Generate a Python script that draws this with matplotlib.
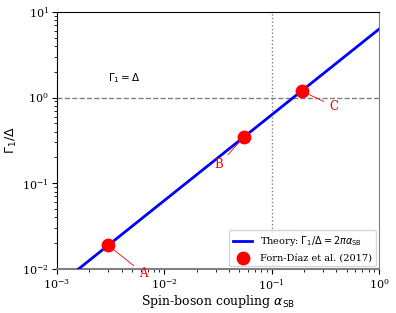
import numpy as np
import matplotlib
matplotlib.use('Agg')
import matplotlib.pyplot as plt

# Forn-Diaz et al. (2017) points
alpha_data = [0.003, 0.055, 0.19]
gamma_data = [2 * np.pi * a for a in alpha_data]
point_labels = ['A', 'B', 'C']
label_offsets = [(25, -20), (-18, -20), (23, -11)]   # points

alpha_theory = np.logspace(-3, 0, 200)
gamma_theory = 2 * np.pi * alpha_theory

plt.rcParams['font.family'] = 'serif'
plt.rcParams['font.serif'] = ['DejaVu Serif']

fig = plt.figure(figsize=(3.96, 3.13), dpi=100)
ax = fig.add_axes([0.144, 0.141, 0.813, 0.821])

ax.plot(alpha_theory, gamma_theory, color='blue', lw=2,
        label=r'Theory: $\Gamma_1/\Delta = 2\pi\alpha_{\rm SB}$', zorder=3)
ax.scatter(alpha_data, gamma_data, s=80, color='red', zorder=5,
           label='Forn-Díaz et al. (2017)')

for a, g, lab, off in zip(alpha_data, gamma_data, point_labels, label_offsets):
    ax.annotate(lab, xy=(a, g), xytext=off, textcoords='offset points',
                color='red', fontsize=8.5, ha='center', va='center',
                arrowprops=dict(arrowstyle='-', color='red', lw=0.6))

ax.axhline(1.0, color='gray', ls='--', lw=1)
ax.axvline(0.1, color='gray', ls=':', lw=1)
ax.text(0.003, 1.7, r'$\Gamma_1 = \Delta$', fontsize=7.5, va='center')
ax.text(0.14, 0.025, 'USC', color='#dddddd', fontsize=7, ha='center', va='center', zorder=1)

ax.set_xscale('log')
ax.set_yscale('log')
ax.set_xlim(1e-3, 1)
ax.set_ylim(1e-2, 10)
ax.set_xlabel(r'Spin-boson coupling $\alpha_{\rm SB}$', fontsize=9, labelpad=1)
ax.set_ylabel(r'$\Gamma_1/\Delta$', fontsize=9, labelpad=2)
ax.tick_params(labelsize=8, pad=2.5)

ax.spines['bottom'].set_color('gray')
ax.spines['bottom'].set_linewidth(1.5)
ax.spines['right'].set_color('gray')

ax.legend(loc='lower right', fontsize=7, borderaxespad=0.3)

fig.savefig('out.png', dpi=100)
